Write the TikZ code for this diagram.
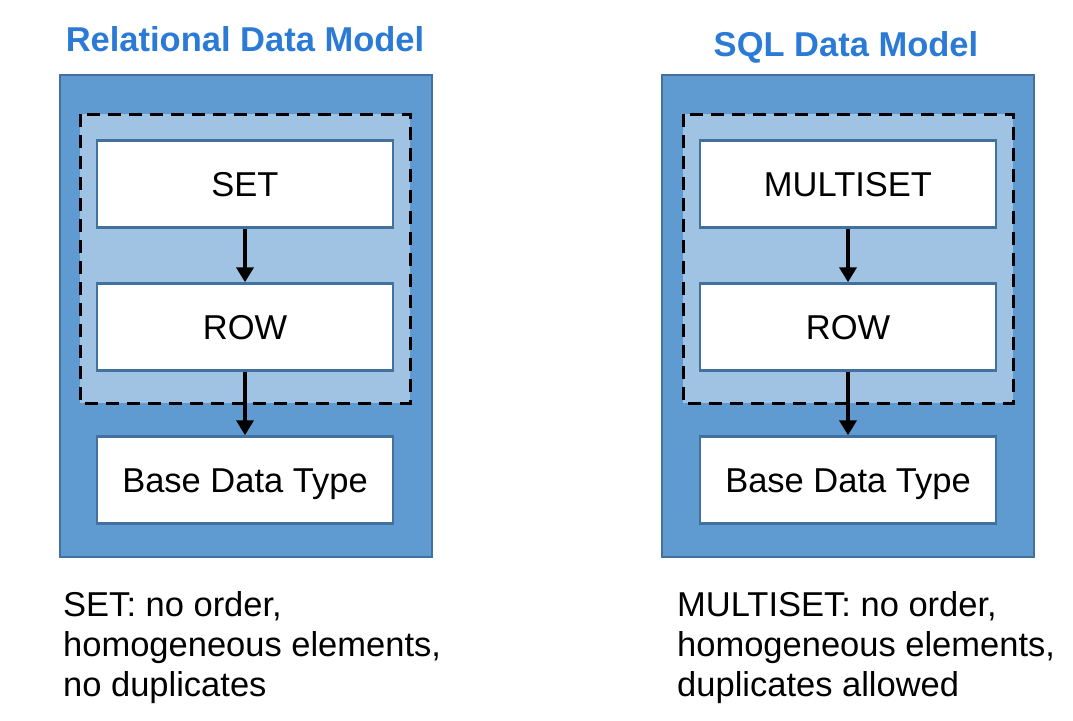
\documentclass[tikz,border=0pt]{standalone}
\usepackage{fontspec}
\setmainfont{Liberation Sans}
\usetikzlibrary{arrows.meta}
\definecolor{outerfill}{HTML}{5F9BD1}
\definecolor{outerline}{HTML}{41719C}
\definecolor{innerfill}{HTML}{A0C3E3}
\definecolor{titleblue}{HTML}{2B7BD6}
\tikzset{
  outerbox/.style={fill=outerfill, draw=outerline, line width=2.5pt},
  groupbox/.style={fill=innerfill, draw=black, line width=3pt, dash pattern=on 13pt off 8pt},
  itembox/.style={fill=white, draw=outerline, line width=2.5pt, minimum width=296pt, minimum height=87pt, inner sep=0pt, text height=24.5pt, text depth=0pt, font=\fontsize{34.5}{40}\selectfont},
  flow/.style={line width=4.5pt, -{Triangle[length=15pt,width=17pt]}},
  title/.style={font=\fontsize{34.5}{40}\selectfont\bfseries, text=titleblue, inner sep=0pt, anchor=base},
  note/.style={font=\fontsize{34.5}{40}\selectfont, align=left, inner sep=0pt, anchor=north west}
}
\begin{document}
\begin{tikzpicture}[x=1pt,y=-1pt]
\useasboundingbox (0,0) rectangle (1073,720);
% left panel
\node[title] (t1) at (245,51) {Relational Data Model};
\draw[outerbox] (60,75) rectangle (432,557);
\draw[groupbox] (80,114) rectangle (410,403);
\node[itembox] (set) at (245,184) {SET};
\node[itembox] (row1) at (245,327) {ROW};
\node[itembox] (base1) at (245,480) {Base Data Type};
\draw[flow] (set) -- (row1);
\draw[flow] (row1) -- (base1);
\node[note] (n1) at (63,591) {SET: no order,\\homogeneous elements,\\no duplicates};
% right panel
\node[title] (t2) at (846,56) {SQL Data Model};
\draw[outerbox] (662,75) rectangle (1034,557);
\draw[groupbox] (683,114) rectangle (1013,403);
\node[itembox] (mset) at (848,184) {MULTISET};
\node[itembox] (row2) at (848,327) {ROW};
\node[itembox] (base2) at (848,480) {Base Data Type};
\draw[flow] (mset) -- (row2);
\draw[flow] (row2) -- (base2);
\node[note] (n2) at (677,591) {MULTISET: no order,\\homogeneous elements,\\duplicates allowed};
\end{tikzpicture}
\end{document}
